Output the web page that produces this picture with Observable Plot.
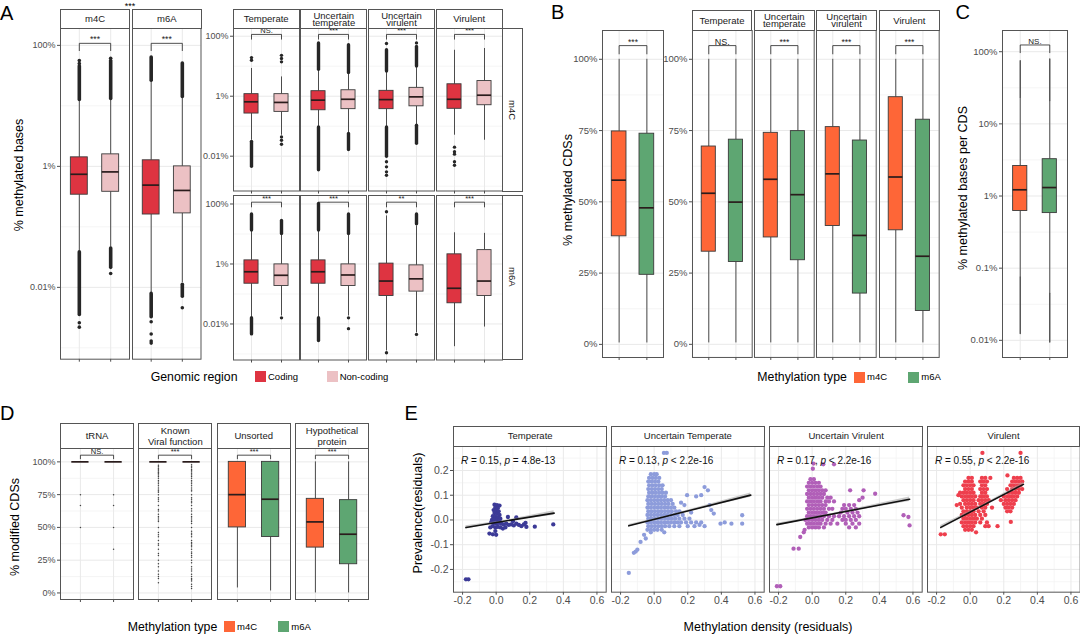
<!DOCTYPE html>
<html>
<head>
<meta charset="utf-8">
<script src="https://cdn.jsdelivr.net/npm/d3@7"></script>
<script src="https://cdn.jsdelivr.net/npm/@observablehq/plot@0.6"></script>
<style>
  html, body { margin: 0; padding: 0; background: #fff; }
  #fig { position: relative; width: 1080px; height: 634px; overflow: hidden; background: #fff;
         font-family: "Liberation Sans", Arial, Helvetica, sans-serif; }
  #fig svg { overflow: visible; }
  .strip { position: absolute; box-sizing: border-box; border: 1px solid #555; background: #fff;
           display: flex; align-items: center; justify-content: center; text-align: center;
           color: #1a1a1a; white-space: pre-line; }
  .vstrip { writing-mode: vertical-rl; }
  .txt { position: absolute; white-space: nowrap; line-height: 1; }
  .rot { transform: translate(-50%, -50%) rotate(-90deg); }
  .sw { position: absolute; width: 11px; height: 11px; }
</style>
</head>
<body>
<div id="fig"></div>
<script>
// ======================= DATA =======================
const genomicRegions = ["Coding", "Non-coding"];
const regionColors = ["#DE3441", "#ECC1C4"];
const methylationTypes = ["m4C", "m6A"];
const typeColors = ["#FE6637", "#5EA672"];
const lifestyles = ["Temperate", "Uncertain temperate", "Uncertain virulent", "Virulent"];
const lifestyleStrips = ["Temperate", "Uncertain\ntemperate", "Uncertain\nvirulent", "Virulent"];
const geneCategories = ["tRNA", "Known Viral function", "Unsorted", "Hypothetical protein"];
const geneCategoryStrips = ["tRNA", "Known\nViral function", "Unsorted", "Hypothetical\nprotein"];
const lifestylesE = ["Temperate", "Uncertain Temperate", "Uncertain Virulent", "Virulent"];
const lifestyleColorsE = ["#3C3A97", "#8D9CDB", "#B15FB8", "#EE3F4D"];

const logTicksA = [100, 1, 0.01];
const logMinorA = [10, 0.1, 0.001];
const logTicksC = [100, 10, 1, 0.1, 0.01];
const logMinorC = [31.6, 3.16, 0.316, 0.0316];
const pctTicks = [0, 25, 50, 75, 100];
const pctMinor = [12.5, 37.5, 62.5, 87.5];
const residTicksX = [-0.2, 0, 0.2, 0.4, 0.6];
const residMinorX = [-0.1, 0.1, 0.3, 0.5];
const residTicksY = [-0.2, -0.1, 0, 0.1, 0.2];
const residMinorY = [-0.25, -0.15, -0.05, 0.05, 0.15, 0.25];

// Panel A (left): [type, region, whisker low, Q1, median, Q3, whisker high]  (% methylated bases)
const boxesA1 = [
  ["m4C", "Coding", 0.04, 0.34, 0.74, 1.41, 12],
  ["m4C", "Non-coding", 0.046, 0.38, 0.81, 1.58, 12.5],
  ["m6A", "Coding", 0.008, 0.16, 0.49, 1.26, 26],
  ["m6A", "Non-coding", 0.012, 0.167, 0.40, 1.0, 14]
];
const outlierRunsA1 = [
  ["m4C", "Coding", 12.5, 45], ["m4C", "Coding", 0.0035, 0.038],
  ["m4C", "Non-coding", 13, 55], ["m4C", "Non-coding", 0.021, 0.044],
  ["m6A", "Coding", 26, 63], ["m6A", "Coding", 0.0032, 0.0078],
  ["m6A", "Non-coding", 14, 50], ["m6A", "Non-coding", 0.007, 0.011]
];
const outliersA1 = [
  ["m4C", "Coding", 50], ["m4C", "Coding", 56], ["m4C", "Coding", 0.0026], ["m4C", "Coding", 0.0022],
  ["m4C", "Non-coding", 61], ["m4C", "Non-coding", 0.017],
  ["m6A", "Coding", 0.0027], ["m6A", "Coding", 0.0017], ["m6A", "Coding", 0.0013], ["m6A", "Coding", 0.0012],
  ["m6A", "Non-coding", 0.0046]
];
const sigA1 = ["***", "***"];
const sigA1Between = "***";

// Panel A (right): [lifestyle, type, region, low, Q1, median, Q3, high]
const boxesA2 = [
  ["Temperate", "m4C", "Coding", 0.034, 0.264, 0.65, 1.17, 8.4],
  ["Temperate", "m4C", "Non-coding", 0.05, 0.30, 0.62, 1.17, 4.4],
  ["Uncertain temperate", "m4C", "Coding", 0.095, 0.34, 0.74, 1.47, 7.4],
  ["Uncertain temperate", "m4C", "Non-coding", 0.057, 0.37, 0.79, 1.58, 5.7],
  ["Uncertain virulent", "m4C", "Coding", 0.095, 0.37, 0.77, 1.51, 6.5],
  ["Uncertain virulent", "m4C", "Non-coding", 0.108, 0.46, 0.95, 1.9, 9.5],
  ["Virulent", "m4C", "Coding", 0.05, 0.38, 0.79, 2.5, 34],
  ["Virulent", "m4C", "Non-coding", 0.034, 0.5, 1.08, 3.2, 39],
  ["Temperate", "m6A", "Coding", 0.0163, 0.22, 0.55, 1.32, 12.6],
  ["Temperate", "m6A", "Non-coding", 0.0185, 0.185, 0.42, 0.97, 9.5],
  ["Uncertain temperate", "m6A", "Coding", 0.016, 0.22, 0.55, 1.32, 12.6],
  ["Uncertain temperate", "m6A", "Non-coding", 0.0185, 0.185, 0.43, 0.97, 9.7],
  ["Uncertain virulent", "m6A", "Coding", 0.00126, 0.086, 0.27, 1.03, 40],
  ["Uncertain virulent", "m6A", "Non-coding", 0.0051, 0.12, 0.32, 0.90, 18.5],
  ["Virulent", "m6A", "Coding", 0.00175, 0.049, 0.155, 2.1, 11],
  ["Virulent", "m6A", "Non-coding", 0.0079, 0.086, 0.27, 2.9, 10.5]
];
const outlierRunsA2 = [
  ["Temperate", "m4C", "Coding", 0.0044, 0.030],
  ["Uncertain temperate", "m4C", "Coding", 7.6, 57], ["Uncertain temperate", "m4C", "Coding", 0.0034, 0.09],
  ["Uncertain temperate", "m4C", "Non-coding", 5.9, 50], ["Uncertain temperate", "m4C", "Non-coding", 0.016, 0.055],
  ["Uncertain virulent", "m4C", "Coding", 6.7, 34], ["Uncertain virulent", "m4C", "Coding", 0.0095, 0.09],
  ["Uncertain virulent", "m4C", "Non-coding", 9.8, 44], ["Uncertain virulent", "m4C", "Non-coding", 0.026, 0.104],
  ["Temperate", "m6A", "Coding", 13, 45], ["Temperate", "m6A", "Coding", 0.0045, 0.0155],
  ["Temperate", "m6A", "Non-coding", 10, 27],
  ["Uncertain temperate", "m6A", "Coding", 13, 100], ["Uncertain temperate", "m6A", "Coding", 0.0027, 0.0155],
  ["Uncertain temperate", "m6A", "Non-coding", 10, 45],
  ["Uncertain virulent", "m6A", "Non-coding", 21, 45]
];
const outliersA2 = [
  ["Temperate", "m4C", "Coding", 19.4], ["Temperate", "m4C", "Coding", 15.8],
  ["Temperate", "m4C", "Non-coding", 23], ["Temperate", "m4C", "Non-coding", 18], ["Temperate", "m4C", "Non-coding", 14],
  ["Temperate", "m4C", "Non-coding", 0.044], ["Temperate", "m4C", "Non-coding", 0.034], ["Temperate", "m4C", "Non-coding", 0.025],
  ["Uncertain virulent", "m4C", "Coding", 57], ["Uncertain virulent", "m4C", "Coding", 0.0065], ["Uncertain virulent", "m4C", "Coding", 0.0044],
  ["Uncertain virulent", "m4C", "Coding", 0.003], ["Uncertain virulent", "m4C", "Coding", 0.0023],
  ["Uncertain virulent", "m4C", "Non-coding", 60],
  ["Virulent", "m4C", "Coding", 0.020], ["Virulent", "m4C", "Coding", 0.014], ["Virulent", "m4C", "Coding", 0.0117],
  ["Virulent", "m4C", "Coding", 0.0065], ["Virulent", "m4C", "Coding", 0.005],
  ["Temperate", "m6A", "Non-coding", 0.016],
  ["Uncertain temperate", "m6A", "Non-coding", 0.016], ["Uncertain temperate", "m6A", "Non-coding", 0.007],
  ["Uncertain virulent", "m6A", "Coding", 55], ["Uncertain virulent", "m6A", "Coding", 0.0011],
  ["Uncertain virulent", "m6A", "Non-coding", 0.0045]
];
const sigA2m4C = ["NS.", "***", "***", "***"];
const sigA2m6A = ["***", "***", "**", "***"];

// Panel B: % methylated CDSs  [type, low, Q1, median, Q3, high]
const boxesB1 = [["m4C", 0.5, 37.9, 57.6, 74.7, 100], ["m6A", 0.5, 24.4, 47.9, 73.9, 100]];
const sigB1 = "***";
const boxesB2 = [
  ["Temperate", "m4C", 0.5, 32.5, 53.0, 69.4, 100], ["Temperate", "m6A", 0.5, 28.9, 49.9, 71.8, 100],
  ["Uncertain temperate", "m4C", 0.5, 37.5, 57.9, 74.2, 100], ["Uncertain temperate", "m6A", 0.5, 29.5, 52.5, 74.8, 100],
  ["Uncertain virulent", "m4C", 0.5, 41.5, 59.8, 76.2, 100], ["Uncertain virulent", "m6A", 0.5, 17.8, 38.2, 71.5, 100],
  ["Virulent", "m4C", 0.5, 40.0, 58.7, 86.7, 100], ["Virulent", "m6A", 0.5, 11.7, 30.9, 78.8, 100]
];
const sigB2 = ["NS.", "***", "***", "***"];

// Panel C: % methylated bases per CDS
const boxesC = [["m4C", 0.074, 0.62, 1.22, 2.61, 23], ["m6A", 0.044, 0.58, 1.31, 3.24, 20.7]];
const outlierRunsC = [["m4C", 23, 74], ["m4C", 0.0122, 0.074], ["m6A", 20.7, 78], ["m6A", 0.0093, 0.044]];
const sigC = "NS.";

// Panel D: % modified CDSs  [category, type, low, Q1, median, Q3, high]
const boxesD = [
  ["tRNA", "m4C", 100, 100, 100, 100, 100], ["tRNA", "m6A", 100, 100, 100, 100, 100],
  ["Known Viral function", "m4C", 100, 100, 100, 100, 100], ["Known Viral function", "m6A", 100, 100, 100, 100, 100],
  ["Unsorted", "m4C", 3.8, 50, 75, 100, 100], ["Unsorted", "m6A", 1.5, 42.7, 71.5, 100, 100],
  ["Hypothetical protein", "m4C", 0, 34.6, 54.2, 71.8, 100], ["Hypothetical protein", "m6A", 0, 21.9, 44.8, 70.8, 100]
];
const outliersD_tRNA_m4C = [75, 66.7, 50];
const outliersD_tRNA_m6A = [75, 66.7, 50, 33.3];
const outliersD_known_m4C = [97.5, 96.3, 95.2, 94.4, 93.3, 92.3, 91.7, 90.9, 90, 88.9, 87.5, 85.7, 84.6, 83.3, 81.8, 80, 78.6,
  77.8, 76.9, 75, 72.7, 71.4, 70, 66.7, 63.6, 62.5, 60, 58.3, 57.1, 55.6, 54.5, 50, 46.2, 44.4, 42.9, 40, 37.5, 36.4, 33.3,
  30, 28.6, 25, 22.2, 20, 16.7, 14.3, 12.5, 11.1, 7.7];
const outliersD_known_m6A = [97.8, 96.7, 95.5, 94.1, 93.3, 92.3, 90.9, 90, 88.9, 87.5, 85.7, 84.6, 83.3, 81.8, 80, 78.6, 77.8,
  75, 72.7, 71.4, 70, 68.8, 66.7, 64.3, 62.5, 60, 58.3, 57.1, 55.6, 54.5, 52.9, 50, 47.1, 45.5, 44.4, 42.9, 40, 38.5, 37.5,
  36.4, 35.3, 33.3, 31.3, 30, 28.6, 27.3, 25, 23.1, 20, 18.2, 16.7, 14.3, 12.5, 11.1, 10, 9.1, 6.7, 5, 3.3];
const sigD = ["NS.", "***", "***", "***"];

// Panel E: [methylation density residual, prevalence residual]
const pointsE_temperate = [[-0.01,0.062],[0.005,0.06],[0.02,0.058],[-0.005,0.05],[0.01,0.048],[-0.015,0.04],[0,0.038],[0.015,0.035],
  [-0.01,0.028],[0.005,0.025],[0.02,0.02],[-0.02,0.015],[-0.005,0.012],[0.01,0.01],[0.025,0.005],[-0.025,0],[-0.01,0.002],
  [0.005,-0.002],[0.02,-0.005],[-0.03,-0.01],[-0.015,-0.012],[0,-0.015],[0.015,-0.012],[0.03,-0.015],[0.045,-0.018],[0.06,-0.015],
  [0.075,-0.02],[0.09,-0.018],[0.105,-0.022],[0.12,-0.015],[0.135,-0.02],[0.15,-0.025],[0.165,-0.018],[0.18,-0.028],[0.175,-0.012],
  [0.23,-0.027],[0.34,-0.018],[0.07,0.012],[0.12,0.01],[0.1,-0.005],[-0.035,-0.03],[-0.02,-0.025],[-0.005,-0.03],[0.01,-0.028],
  [0.025,-0.03],[-0.04,-0.055],[-0.02,-0.058],[-0.005,-0.045],[0,-0.06],[0.04,-0.035],[0.055,-0.03],[-0.18,-0.24],[-0.165,-0.24]];
const pointsE_uncertainTemperate = [[-0.02,0.185],[0,0.185],[0.015,0.185],[-0.03,0.17],[-0.01,0.17],[0.01,0.17],[0.03,0.17],
  [-0.035,0.155],[-0.015,0.155],[0.005,0.155],[0.025,0.155],[-0.03,0.14],[-0.01,0.14],[0.01,0.14],[0.03,0.14],[0.05,0.14],
  [-0.035,0.125],[-0.015,0.125],[0.005,0.125],[0.025,0.125],[0.045,0.125],[-0.03,0.11],[-0.01,0.11],[0.01,0.11],[0.03,0.11],[0.05,0.11],[0.07,0.11],
  [-0.035,0.095],[-0.015,0.095],[0.005,0.095],[0.025,0.095],[0.045,0.095],[0.065,0.095],
  [-0.04,0.08],[-0.02,0.08],[0,0.08],[0.02,0.08],[0.04,0.08],[0.06,0.08],[0.08,0.08],[0.1,0.08],
  [-0.035,0.065],[-0.015,0.065],[0.005,0.065],[0.025,0.065],[0.045,0.065],[0.065,0.065],[0.085,0.065],[0.11,0.065],
  [-0.04,0.05],[-0.02,0.05],[0,0.05],[0.02,0.05],[0.04,0.05],[0.06,0.05],[0.08,0.05],[0.1,0.05],[0.12,0.05],
  [-0.035,0.035],[-0.015,0.035],[0.005,0.035],[0.025,0.035],[0.045,0.035],[0.065,0.035],[0.085,0.035],[0.105,0.035],[0.13,0.035],[0.15,0.035],
  [-0.04,0.02],[-0.02,0.02],[0,0.02],[0.02,0.02],[0.04,0.02],[0.06,0.02],[0.08,0.02],[0.1,0.02],[0.12,0.02],[0.14,0.02],[0.17,0.02],
  [-0.035,0.005],[-0.015,0.005],[0.005,0.005],[0.025,0.005],[0.045,0.005],[0.065,0.005],[0.085,0.005],[0.105,0.005],[0.125,0.005],[0.15,0.005],[0.18,0.005],[0.21,0.005],
  [-0.04,-0.01],[-0.02,-0.01],[0,-0.01],[0.02,-0.01],[0.04,-0.01],[0.06,-0.01],[0.08,-0.01],[0.1,-0.01],[0.12,-0.01],[0.14,-0.01],[0.16,-0.01],[0.19,-0.01],[0.22,-0.01],[0.25,-0.01],[0.28,-0.01],
  [-0.035,-0.025],[-0.015,-0.025],[0.005,-0.025],[0.025,-0.025],[0.045,-0.025],[0.065,-0.025],[0.09,-0.025],[0.12,-0.025],[0.15,-0.025],[0.2,-0.025],[0.24,-0.025],
  [-0.04,-0.04],[-0.02,-0.04],[0,-0.04],[0.02,-0.04],[0.045,-0.04],[-0.02,-0.05],[0.06,-0.05],
  [0.058,0.271],[0.075,0.271],[0.3,0.133],[0.32,0.12],[0.196,0.1],[0.25,0.095],[0.28,0.1],[0.33,0.06],[0.355,0.026],[0.34,0.04],
  [0.395,-0.015],[0.42,-0.01],[0.46,-0.015],[0.524,0.019],[0.524,-0.015],[0.27,-0.02],[0.3,-0.025],[0.22,0.03],[0.16,0.07],[0.18,0.06],
  [-0.081,-0.089],[-0.1,-0.12],[-0.121,-0.133],[-0.11,-0.128],[-0.151,-0.214],[-0.06,-0.06],[-0.05,-0.075]];
const pointsE_uncertainVirulent = [[-0.01,0.165],[0.01,0.165],[-0.02,0.15],[0,0.15],[0.02,0.15],[0.04,0.15],
  [-0.03,0.135],[-0.01,0.135],[0.01,0.135],[0.03,0.135],[0.05,0.135],[-0.02,0.12],[0,0.12],[0.02,0.12],[0.04,0.12],[0.06,0.12],[0.08,0.12],
  [-0.03,0.105],[-0.01,0.105],[0.01,0.105],[0.03,0.105],[0.05,0.105],[0.07,0.105],
  [-0.02,0.09],[0,0.09],[0.02,0.09],[0.04,0.09],[0.06,0.09],[0.09,0.09],[0.11,0.09],
  [-0.03,0.075],[-0.01,0.075],[0.01,0.075],[0.03,0.075],[0.05,0.075],[0.08,0.075],[0.1,0.075],[0.13,0.075],
  [-0.02,0.06],[0,0.06],[0.02,0.06],[0.04,0.06],[0.06,0.06],[0.08,0.06],[0.19,0.06],[0.22,0.06],[0.25,0.06],
  [-0.03,0.045],[-0.01,0.045],[0.01,0.045],[0.03,0.045],[0.05,0.045],[0.07,0.045],[0.1,0.045],[0.12,0.045],[0.18,0.045],[0.2,0.045],[0.23,0.045],[0.26,0.045],
  [-0.02,0.03],[0,0.03],[0.02,0.03],[0.04,0.03],[0.06,0.03],[0.08,0.03],[0.17,0.03],[0.21,0.03],[0.24,0.03],[0.27,0.03],
  [-0.03,0.015],[-0.01,0.015],[0.01,0.015],[0.03,0.015],[0.05,0.015],[0.07,0.015],[0.1,0.015],[0.13,0.015],[0.16,0.015],[0.19,0.015],[0.22,0.015],[0.25,0.015],[0.28,0.015],
  [-0.04,0],[-0.02,0],[0,0],[0.02,0],[0.04,0],[0.06,0],[0.09,0],[0.12,0],[0.18,0],[0.2,0],[0.23,0],[0.26,0],
  [-0.03,-0.015],[-0.01,-0.015],[0.01,-0.015],[0.03,-0.015],[0.05,-0.015],[0.08,-0.015],[0.11,-0.015],[0.15,-0.015],[0.2,-0.015],[0.24,-0.015],[0.28,-0.015],
  [-0.02,-0.03],[0,-0.03],[0.02,-0.03],[0.04,-0.03],[0.07,-0.03],[0.22,-0.03],[0.26,-0.03],
  [0.004,0.207],[0.008,0.228],[0.066,0.225],[0.13,0.225],[0.226,0.12],[0.306,0.12],[0.375,0.106],[0.3,0.09],[0.28,0.08],
  [0.544,0.019],[0.573,0.012],[0.58,-0.022],[-0.071,-0.069],[-0.05,-0.05],[-0.111,-0.116],[-0.08,-0.116],[-0.21,-0.268],[-0.19,-0.268],[-0.045,-0.04]];
const pointsE_virulent = [[-0.01,0.17],[0.01,0.17],[0.07,0.17],[0.09,0.17],[0.26,0.17],[0.28,0.17],[0.3,0.17],
  [-0.03,0.155],[-0.01,0.155],[0.01,0.155],[0.06,0.155],[0.08,0.155],[0.1,0.155],[0.25,0.155],[0.27,0.155],[0.29,0.155],[0.31,0.155],
  [-0.04,0.14],[-0.02,0.14],[0,0.14],[0.02,0.14],[0.07,0.14],[0.09,0.14],[0.24,0.14],[0.26,0.14],[0.28,0.14],[0.3,0.14],
  [-0.03,0.125],[-0.01,0.125],[0.01,0.125],[0.06,0.125],[0.08,0.125],[0.1,0.125],[0.22,0.125],[0.25,0.125],[0.27,0.125],[0.29,0.125],[0.31,0.125],
  [-0.06,0.11],[-0.04,0.11],[-0.02,0.11],[0,0.11],[0.02,0.11],[0.07,0.11],[0.09,0.11],[0.23,0.11],[0.25,0.11],[0.27,0.11],[0.29,0.11],
  [-0.05,0.095],[-0.03,0.095],[-0.01,0.095],[0.01,0.095],[0.03,0.095],[0.06,0.095],[0.08,0.095],[0.1,0.095],[0.2,0.095],[0.22,0.095],[0.24,0.095],[0.26,0.095],[0.28,0.095],
  [-0.04,0.08],[-0.02,0.08],[0,0.08],[0.02,0.08],[0.05,0.08],[0.07,0.08],[0.09,0.08],[0.11,0.08],[0.21,0.08],[0.23,0.08],[0.25,0.08],[0.27,0.08],
  [-0.06,0.065],[-0.03,0.065],[-0.01,0.065],[0.01,0.065],[0.03,0.065],[0.06,0.065],[0.08,0.065],[0.1,0.065],[0.2,0.065],[0.22,0.065],[0.24,0.065],[0.26,0.065],
  [-0.05,0.05],[-0.02,0.05],[0,0.05],[0.02,0.05],[0.04,0.05],[0.07,0.05],[0.09,0.05],[0.13,0.05],[0.21,0.05],[0.23,0.05],[0.25,0.05],
  [-0.04,0.035],[-0.02,0.035],[0,0.035],[0.02,0.035],[0.05,0.035],[0.08,0.035],[0.22,0.035],[0.24,0.035],
  [-0.05,0.02],[-0.03,0.02],[-0.01,0.02],[0.01,0.02],[0.03,0.02],[0.06,0.02],[0.09,0.02],
  [-0.04,0.005],[-0.02,0.005],[0,0.005],[0.02,0.005],[0.04,0.005],[0.07,0.005],
  [-0.05,-0.01],[-0.03,-0.01],[-0.01,-0.01],[0.01,-0.01],[0.03,-0.01],[0.06,-0.01],[0.1,-0.01],
  [-0.04,-0.025],[-0.02,-0.025],[0,-0.025],[0.02,-0.025],[0.09,-0.025],[0.11,-0.025],[0.163,-0.025],
  [-0.03,-0.04],[-0.01,-0.04],[0.01,-0.04],
  [0.073,0.271],[0.30,0.271],[0.222,0.18],[0.242,-0.008],[0.183,0.08],[-0.175,-0.058],[-0.151,-0.058],[-0.08,0.06],[-0.07,0.1],[0.12,0.17],[0.035,-0.05]];
// linear fits: [intercept, slope, x min, x max]; CI half widths at [x min, mean x, x max]
const fitE = [[-0.0105, 0.111, -0.18, 0.345], [0.0021, 0.171, -0.151, 0.575], [0.0083, 0.13, -0.21, 0.58], [0.0318, 0.354, -0.175, 0.317]];
const ciE = [[0.007, 0.002, 0.009], [0.005, 0.0015, 0.009], [0.006, 0.0015, 0.009], [0.008, 0.003, 0.008]];
const corrLabelsE = ["R = 0.15, p = 4.8e-13", "R = 0.13, p < 2.2e-16", "R = 0.17, p < 2.2e-16", "R = 0.55, p < 2.2e-16"];

// ======================= LAYOUT =======================
const FONT = '"Liberation Sans", Arial, Helvetica, sans-serif';
const fig = document.getElementById("fig");

function text(str, x, y, o = {}) {
  const d = document.createElement("div");
  d.className = "txt" + (o.rot ? " rot" : "");
  d.textContent = str;
  Object.assign(d.style, {left: x + "px", top: y + "px", fontSize: (o.size || 12) + "px", color: o.color || "#000"});
  if (!o.rot) d.style.transform = o.anchor === "middle" ? "translate(-50%,-50%)" : "translate(0,-50%)";
  fig.appendChild(d);
}
function strip(label, left, top, width, height, o = {}) {
  const d = document.createElement("div");
  d.className = "strip" + (o.vertical ? " vstrip" : "");
  d.textContent = label;
  Object.assign(d.style, {left: left + "px", top: top + "px", width: width + "px", height: height + "px",
    lineHeight: (o.lh || 10) + "px", fontSize: (o.fs || 9.5) + "px"});
  fig.appendChild(d);
}
function legend(title, labels, colors, titleX, swX, cy) {
  text(title, titleX, cy, {size: 12.3});
  labels.forEach((lab, i) => {
    const s = document.createElement("div");
    s.className = "sw";
    Object.assign(s.style, {left: swX[i] + "px", top: (cy - 5.5) + "px", background: colors[i]});
    fig.appendChild(s);
    text(lab, swX[i] + 13, cy, {size: 9.5});
  });
}
function place(node, left, top) {
  node.style.position = "absolute";
  node.style.left = left + "px";
  node.style.top = top + "px";
  fig.appendChild(node);
}

function boxPanel(o) {
  const ml = o.showY ? 46 : 0, mb = 4;
  const cats = o.cats, pos = g => cats.indexOf(g) + 1, hw = o.bw / 2;
  const marks = [
    Plot.ruleY(o.y.minor, {stroke: "#f3f3f3", strokeWidth: 0.8}),
    Plot.ruleY(o.y.ticks, {stroke: "#e9e9e9", strokeWidth: 1}),
    Plot.ruleX(cats.map(pos), {stroke: "#e9e9e9", strokeWidth: 1}),
    Plot.ruleX(o.boxes, {x: d => pos(d.g), y1: "lo", y2: "q1", stroke: "#3a3a3a", strokeWidth: 0.9}),
    Plot.ruleX(o.boxes, {x: d => pos(d.g), y1: "q3", y2: "hi", stroke: "#3a3a3a", strokeWidth: 0.9}),
    Plot.ruleX(o.ranges || [], {x: d => pos(d.g), y1: "lo", y2: "hi", stroke: o.rangeStroke || "#262626", strokeWidth: o.rangeW || 3, strokeLinecap: "round"}),
    Plot.dot(o.pts || [], {x: d => pos(d.g), y: "v", r: o.ptR || 1.8, fill: o.ptFill || "#262626"}),
    Plot.rect(o.boxes, {x1: d => pos(d.g) - hw, x2: d => pos(d.g) + hw, y1: "q1", y2: "q3",
      fill: d => o.colors[cats.indexOf(d.g)], stroke: "#3a3a3a", strokeWidth: 0.9}),
    Plot.ruleY(o.boxes, {y: "med", x1: d => pos(d.g) - hw, x2: d => pos(d.g) + hw, stroke: "#2a1c1c", strokeWidth: 1.7})
  ];
  if (o.sig) {
    const br = [{x: 1, y: o.br[1]}, {x: 1, y: o.br[0]}, {x: 2, y: o.br[0]}, {x: 2, y: o.br[1]}];
    marks.push(Plot.line(br, {x: "x", y: "y", stroke: "#222", strokeWidth: 0.8}));
    marks.push(Plot.text([o.sig], {x: () => 1.5, y: () => o.br[0], text: d => d, lineAnchor: "bottom", dy: -1,
      fontSize: o.sigSize || 8, fill: "#222"}));
  }
  marks.push(Plot.frame({stroke: "#555", strokeWidth: 1}));
  const chart = Plot.plot({
    width: ml + o.w, height: o.h + mb,
    marginLeft: ml, marginRight: 0, marginTop: 0, marginBottom: mb,
    x: {domain: [0.4, 2.6], ticks: [1, 2], tickFormat: () => "", tickSize: 3, label: null},
    y: {type: o.y.type, domain: o.y.domain, ticks: o.y.ticks, tickFormat: o.y.fmt, tickSize: 3, tickPadding: 2,
        label: null, axis: o.showY ? "left" : null},
    style: {background: "transparent", overflow: "visible", fontFamily: FONT, fontSize: (o.y.font || 9) + "px", color: "#4d4d4d"},
    marks
  });
  place(chart, o.left - ml, o.top);
}

function scatterPanel(o) {
  const ml = o.showY ? 36 : 0, mb = 16;
  const [a, b, x0, x1] = o.fit;
  const xm = d3.mean(o.pts, d => d[0]);
  const band = [[x0, o.ci[0]], [xm, o.ci[1]], [x1, o.ci[2]]];
  const chart = Plot.plot({
    width: ml + o.w, height: o.h + mb,
    marginLeft: ml, marginRight: 0, marginTop: 0, marginBottom: mb,
    x: {domain: [-0.254, 0.655], ticks: residTicksX, tickFormat: d => d.toFixed(1), tickSize: 3, tickPadding: 1, label: null},
    y: {domain: [-0.292, 0.297], ticks: residTicksY, tickFormat: d => d.toFixed(1), tickSize: 3, tickPadding: 2,
        label: null, axis: o.showY ? "left" : null},
    style: {background: "transparent", overflow: "visible", fontFamily: FONT, fontSize: "10.5px", color: "#4d4d4d"},
    marks: [
      Plot.ruleX(residMinorX, {stroke: "#f3f3f3", strokeWidth: 0.8}),
      Plot.ruleY(residMinorY, {stroke: "#f3f3f3", strokeWidth: 0.8}),
      Plot.ruleX(residTicksX, {stroke: "#e9e9e9", strokeWidth: 1}),
      Plot.ruleY(residTicksY, {stroke: "#e9e9e9", strokeWidth: 1}),
      Plot.dot(o.pts, {x: d => d[0], y: d => d[1], r: 2.15, fill: o.color}),
      Plot.areaY(band, {x: d => d[0], y1: d => a + b * d[0] - d[1], y2: d => a + b * d[0] + d[1], fill: "#9a9a9a", fillOpacity: 0.5}),
      Plot.line([x0, x1], {x: d => d, y: d => a + b * d, stroke: "#111", strokeWidth: 1.6}),
      Plot.text([o.ann], {x: () => -0.21, y: () => 0.238, text: d => d, textAnchor: "start", fontSize: 10, fill: "#111"}),
      Plot.frame({stroke: "#555", strokeWidth: 1})
    ]
  });
  for (const t of chart.querySelectorAll("text")) {
    const s = t.textContent;
    const m = s.match(/^R( = [^,]+, )p( .*)$/);
    if (!m) continue;
    t.textContent = "";
    const add = (txt, it) => {
      const ts = document.createElementNS("http://www.w3.org/2000/svg", "tspan");
      ts.textContent = txt;
      if (it) ts.setAttribute("font-style", "italic");
      t.appendChild(ts);
    };
    add("R", true); add(m[1]); add("p", true); add(m[2]);
  }
  place(chart, o.left - ml, o.top);
}

const pctFmt = d => d + "%";
const toBox = (r, k) => ({g: r[k], lo: r[k + 1], q1: r[k + 2], med: r[k + 3], q3: r[k + 4], hi: r[k + 5]});

// ----- Panel A (left) -----
const LA1 = {lefts: [60, 132], widths: [69, 68.5], top: 28.3, h: 330.7};
const yA1 = {type: "log", domain: [0.00065, 190], ticks: logTicksA, minor: logMinorA, fmt: pctFmt, font: 9};
methylationTypes.forEach((t, i) => {
  boxPanel({
    left: LA1.lefts[i], top: LA1.top, w: LA1.widths[i], h: LA1.h, showY: i === 0, y: yA1,
    cats: genomicRegions, colors: regionColors,
    boxes: boxesA1.filter(r => r[0] === t).map(r => toBox(r, 1)),
    ranges: outlierRunsA1.filter(r => r[0] === t).map(r => ({g: r[1], lo: r[2], hi: r[3]})),
    pts: outliersA1.filter(r => r[0] === t).map(r => ({g: r[1], v: r[2]})),
    bw: 0.54, rangeW: 3.6, ptR: 1.8, sig: sigA1[i], br: [108, 82], sigSize: 8.5
  });
  strip(t, LA1.lefts[i], 9, LA1.widths[i] + 1, 19.8);
});
text(sigA1Between, 130, 6, {size: 9, anchor: "middle"});

// ----- Panel A (right) -----
const LA2 = {lefts: [232.7, 300.3, 368, 435.7], w: 66, tops: [28.3, 194.5], hs: [162.5, 164.5]};
const yA2 = [
  {type: "log", domain: [0.00069, 181], ticks: logTicksA, minor: logMinorA, fmt: pctFmt, font: 9},
  {type: "log", domain: [0.00063, 192], ticks: logTicksA, minor: logMinorA, fmt: pctFmt, font: 9}
];
const sigA2 = [sigA2m4C, sigA2m6A];
methylationTypes.forEach((t, row) => {
  lifestyles.forEach((ls, i) => {
    boxPanel({
      left: LA2.lefts[i], top: LA2.tops[row], w: LA2.w, h: LA2.hs[row], showY: i === 0, y: yA2[row],
      cats: genomicRegions, colors: regionColors,
      boxes: boxesA2.filter(r => r[0] === ls && r[1] === t).map(r => toBox(r, 2)),
      ranges: outlierRunsA2.filter(r => r[0] === ls && r[1] === t).map(r => ({g: r[2], lo: r[3], hi: r[4]})),
      pts: outliersA2.filter(r => r[0] === ls && r[1] === t).map(r => ({g: r[2], v: r[3]})),
      bw: 0.47, rangeW: 3.4, ptR: 1.7, sig: sigA2[row][i], br: [115, 80], sigSize: 7.5
    });
  });
  strip(t, 501.7, LA2.tops[row], 21, LA2.hs[row] + 1, {vertical: true});
});
lifestyleStrips.forEach((s, i) => strip(s, LA2.lefts[i], 9, LA2.w + 1, 19.8, {lh: 7}));
legend("Genomic region", genomicRegions, regionColors, 150.7, [255, 326.7], 376.7);

// ----- Panel B -----
const yB = {type: "linear", domain: [-4.6, 110.1], ticks: pctTicks, minor: pctMinor, fmt: pctFmt, font: 9.5};
boxPanel({left: 601.7, top: 30, w: 61, h: 327, showY: true, y: yB, cats: methylationTypes, colors: typeColors,
  boxes: boxesB1.map(r => toBox(r, 0)), bw: 0.53, sig: sigB1, br: [104.8, 101.9], sigSize: 8.5});
const LB2 = {lefts: [691.7, 754, 816.3, 879], w: 59.7};
lifestyles.forEach((ls, i) => {
  boxPanel({left: LB2.lefts[i], top: 30, w: LB2.w, h: 327, showY: i === 0, y: yB, cats: methylationTypes, colors: typeColors,
    boxes: boxesB2.filter(r => r[0] === ls).map(r => toBox(r, 1)), bw: 0.52, sig: sigB2[i], br: [104.8, 101.9],
    sigSize: sigB2[i] === "NS." ? 9 : 8.5});
  strip(lifestyleStrips[i], LB2.lefts[i], 10, LB2.w + 1, 20.8, {lh: 7.5});
});
legend("Methylation type", methylationTypes, typeColors, 757.3, [854, 908.3], 377.3);

// ----- Panel C -----
const yC = {type: "log", domain: [0.00578, 196.8], ticks: logTicksC, minor: logMinorC, fmt: pctFmt, font: 9.5};
boxPanel({left: 1001.7, top: 29.5, w: 65, h: 327, showY: true, y: yC, cats: methylationTypes, colors: typeColors,
  boxes: boxesC.map(r => toBox(r, 0)),
  ranges: outlierRunsC.map(r => ({g: r[0], lo: r[1], hi: r[2]})),
  bw: 0.48, rangeW: 1.3, rangeStroke: "#444", sig: sigC, br: [124, 97], sigSize: 8});

// ----- Panel D -----
const yD = {type: "linear", domain: [-5, 110.2], ticks: pctTicks, minor: pctMinor, fmt: pctFmt, font: 9};
const LD = {lefts: [60, 138.3, 216.7, 295], w: 73, top: 448.3, h: 151};
const outliersD = [
  ...outliersD_tRNA_m4C.map(v => ({c: "tRNA", g: "m4C", v})),
  ...outliersD_tRNA_m6A.map(v => ({c: "tRNA", g: "m6A", v})),
  ...outliersD_known_m4C.map(v => ({c: "Known Viral function", g: "m4C", v})),
  ...outliersD_known_m6A.map(v => ({c: "Known Viral function", g: "m6A", v}))
];
geneCategories.forEach((c, i) => {
  boxPanel({left: LD.lefts[i], top: LD.top, w: LD.w, h: LD.h, showY: i === 0, y: yD, cats: methylationTypes, colors: typeColors,
    boxes: boxesD.filter(r => r[0] === c).map(r => toBox(r, 1)),
    pts: outliersD.filter(d => d.c === c), ptR: 0.75, ptFill: "#444",
    bw: 0.52, sig: sigD[i], br: [105.1, 102.4], sigSize: 7.5});
  strip(geneCategoryStrips[i], LD.lefts[i], 423.3, LD.w + 1, 25.5, {lh: 11.5});
});
legend("Methylation type", methylationTypes, typeColors, 127.7, [224, 278.3], 626.7);

// ----- Panel E -----
const LE = {lefts: [453.3, 611, 769.3, 926.7], w: 152.7, top: 446, h: 145.7};
const pointsE = [pointsE_temperate, pointsE_uncertainTemperate, pointsE_uncertainVirulent, pointsE_virulent];
lifestylesE.forEach((ls, i) => {
  scatterPanel({left: LE.lefts[i], top: LE.top, w: LE.w, h: LE.h, showY: i === 0, pts: pointsE[i],
    color: lifestyleColorsE[i], fit: fitE[i], ci: ciE[i], ann: corrLabelsE[i]});
  strip(ls, LE.lefts[i], 426, LE.w + 1, 20.5);
});

// ----- Titles & panel letters -----
text("% methylated bases", 19, 175, {rot: true, size: 12.5});
text("% methylated CDSs", 568, 190, {rot: true, size: 12.5});
text("% methylated bases per CDS", 963, 188, {rot: true, size: 12.5});
text("% modified CDSs", 15, 527, {rot: true, size: 12.5});
text("Prevalence(residuals)", 418, 513, {rot: true, size: 12.5});
text("Methylation density (residuals)", 768, 627, {size: 12.5, anchor: "middle"});
[["A", 0, 12.5], ["B", 551, 12.2], ["C", 955.5, 11.7], ["D", 0, 412.5], ["E", 404.5, 412.5]]
  .forEach(([l, x, y]) => text(l, x, y, {size: 20}));
</script>
</body>
</html>
